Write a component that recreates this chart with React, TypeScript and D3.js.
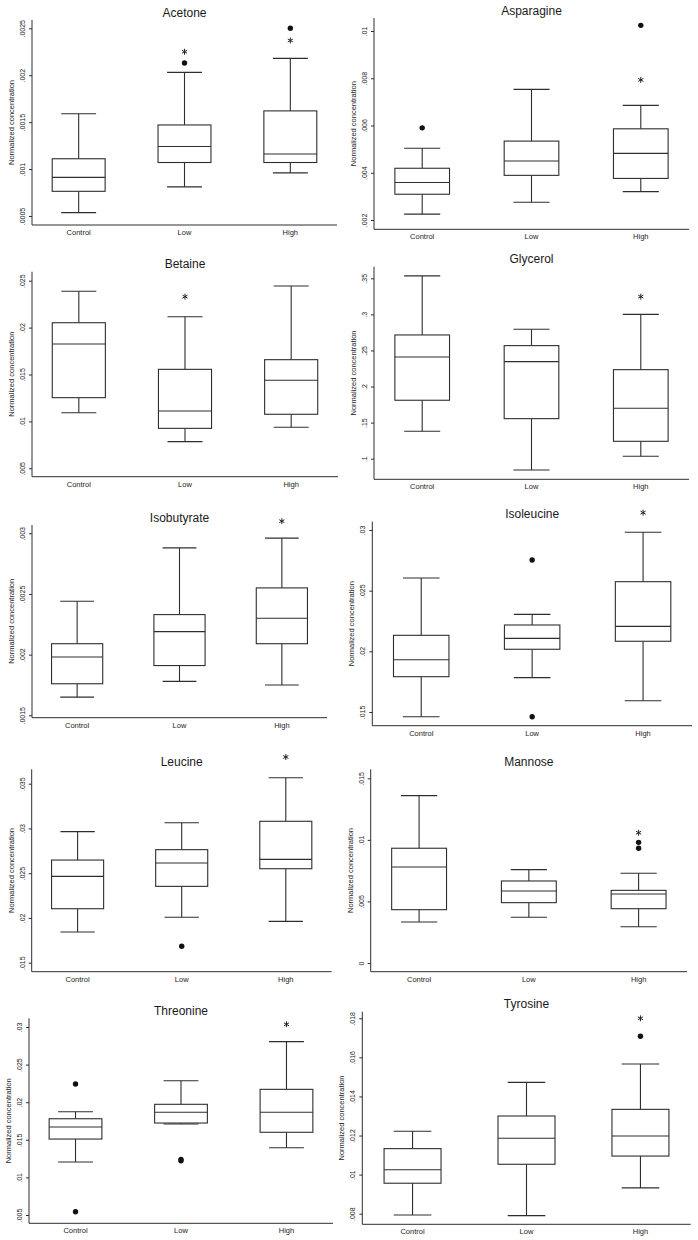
import { useRef, useEffect } from "react";
import * as d3 from "d3";

const groups = ["Control", "Low", "High"];

const metabolites = [
  "Acetone", "Asparagine", "Betaine", "Glycerol", "Isobutyrate",
  "Isoleucine", "Leucine", "Mannose", "Threonine", "Tyrosine",
];

const tickValues = [
  [0.0025, 0.002, 0.0015, 0.001, 0.0005],
  [0.01, 0.008, 0.006, 0.004, 0.002],
  [0.025, 0.02, 0.015, 0.01, 0.005],
  [0.35, 0.3, 0.25, 0.2, 0.15, 0.1],
  [0.003, 0.0025, 0.002, 0.0015],
  [0.03, 0.025, 0.02, 0.015],
  [0.035, 0.03, 0.025, 0.02, 0.015],
  [0.015, 0.01, 0.005, 0],
  [0.03, 0.025, 0.02, 0.015, 0.01, 0.005],
  [0.018, 0.016, 0.014, 0.012, 0.01, 0.008],
];

const tickLabels = [
  [".0025", ".002", ".0015", ".001", ".0005"],
  [".01", ".008", ".006", ".004", ".002"],
  [".025", ".02", ".015", ".01", ".005"],
  [".35", ".3", ".25", ".2", ".15", ".1"],
  [".003", ".0025", ".002", ".0015"],
  [".03", ".025", ".02", ".015"],
  [".035", ".03", ".025", ".02", ".015"],
  [".015", ".01", ".005", "0"],
  [".03", ".025", ".02", ".015", ".01", ".005"],
  [".018", ".016", ".014", ".012", ".01", ".008"],
];

// per metabolite: [Control, Low, High]
const whiskerHigh = [
  [0.00159, 0.00203, 0.00218],
  [0.00504, 0.00753, 0.00685],
  [0.02387, 0.02116, 0.02444],
  [0.3533, 0.2794, 0.3],
  [0.00244, 0.00288, 0.00296],
  [0.02604, 0.02305, 0.02981],
  [0.02964, 0.03064, 0.03567],
  [0.01359, 0.00758, 0.00729],
  [0.01874, 0.02286, 0.02805],
  [0.01222, 0.01472, 0.01566],
];

const upperQuartile = [
  [0.00111, 0.00147, 0.00162],
  [0.00419, 0.00534, 0.00586],
  [0.02052, 0.01555, 0.01658],
  [0.2715, 0.2567, 0.2234],
  [0.00209, 0.00233, 0.00255],
  [0.02132, 0.02217, 0.02574],
  [0.02647, 0.02763, 0.0308],
  [0.00932, 0.00666, 0.0059],
  [0.0178, 0.01972, 0.02171],
  [0.01133, 0.013, 0.01334],
];

const medians = [
  [0.000912, 0.00124, 0.00116],
  [0.00359, 0.0045, 0.00482],
  [0.01825, 0.01111, 0.01438],
  [0.241, 0.2345, 0.1699],
  [0.00198, 0.00219, 0.0023],
  [0.01931, 0.02107, 0.02206],
  [0.02465, 0.02614, 0.02655],
  [0.0078, 0.00585, 0.0056],
  [0.0167, 0.01866, 0.01866],
  [0.01025, 0.01186, 0.01198],
];

const lowerQuartile = [
  [0.000763, 0.00107, 0.00107],
  [0.00309, 0.00389, 0.00376],
  [0.01253, 0.00926, 0.01076],
  [0.181, 0.1555, 0.1241],
  [0.00176, 0.00191, 0.00209],
  [0.01791, 0.02017, 0.02083],
  [0.02103, 0.02353, 0.0255],
  [0.00433, 0.0049, 0.00441],
  [0.0151, 0.01723, 0.016],
  [0.00956, 0.01053, 0.01095],
];

const whiskerLow = [
  [0.000536, 0.00081, 0.00096],
  [0.00225, 0.00275, 0.0032],
  [0.01093, 0.00784, 0.00937],
  [0.138, 0.0843, 0.1033],
  [0.00165, 0.00178, 0.00175],
  [0.01461, 0.01783, 0.01593],
  [0.01843, 0.02007, 0.01962],
  [0.00333, 0.00371, 0.00295],
  [0.01205, 0.0171, 0.01395],
  [0.00793, 0.0079, 0.00932],
];

const outliers = [
  [[], [0.00213], [0.0025]],
  [[0.0059], [], [0.01024]],
  [[], [], []],
  [[], [], []],
  [[], [], []],
  [[], [0.02753, 0.01461], []],
  [[], [0.01683], []],
  [[], [], [0.0098, 0.00932]],
  [[0.02242, 0.00544], [0.0124, 0.0122], []],
  [[], [], [0.01708]],
];

// significance asterisks (value where the star sits), null = none
const stars = [
  [null, 0.00225, 0.00237],
  [null, null, 0.00793],
  [null, 0.0233, null],
  [null, null, 0.3246],
  [null, null, 0.0031],
  [null, null, 0.03143],
  [null, null, 0.03798],
  [null, null, 0.01058],
  [null, null, 0.03036],
  [null, null, 0.018],
];

// panel frames in page pixels
const frames = [
  { left: 32, right: 337, top: 20, bottom: 225, tickTop: 28.3, tickBottom: 216 },
  { left: 374, right: 689, top: 18, bottom: 229.3, tickTop: 31, tickBottom: 220 },
  { left: 32, right: 338, top: 271.7, bottom: 476.7, tickTop: 280.7, tickBottom: 468.3 },
  { left: 374, right: 689, top: 266.7, bottom: 479.3, tickTop: 278.3, tickBottom: 458.7 },
  { left: 32, right: 327, top: 525, bottom: 717.7, tickTop: 533.3, tickBottom: 715.3 },
  { left: 372.3, right: 692, top: 521.7, bottom: 725.7, tickTop: 530, tickBottom: 712 },
  { left: 31.7, right: 331.7, top: 769.3, bottom: 971.7, tickTop: 783.7, tickBottom: 962.7 },
  { left: 370.7, right: 687, top: 769.3, bottom: 971.7, tickTop: 778.3, tickBottom: 963 },
  { left: 29, right: 333, top: 1018.3, bottom: 1223.3, tickTop: 1027, tickBottom: 1215 },
  { left: 362.3, right: 690.7, top: 1011.7, bottom: 1224.3, tickTop: 1018.3, tickBottom: 1213.7 },
];

const ink = "#2e2e2e";
const font = "'Liberation Sans', Arial, Helvetica, sans-serif";

export default function App() {
  const ref = useRef(null);

  useEffect(() => {
    const svg = d3.select(ref.current);
    svg.selectAll("*").remove();

    const starShape = d3.symbol(d3.symbolAsterisk || d3.symbolCross, 24);

    metabolites.forEach((name, p) => {
      const f = frames[p];
      const ticks = tickValues[p];
      const y = d3
        .scaleLinear()
        .domain([ticks[0], ticks[ticks.length - 1]])
        .range([f.tickTop, f.tickBottom]);
      const x = d3.scalePoint().domain(groups).range([f.left, f.right]).padding(0.441);
      const step = x.step();
      const boxW = step * 0.5;
      const capW = step * 0.33;

      const g = svg.append("g").attr("font-family", font);

      // axes
      g.append("line")
        .attr("x1", f.left).attr("x2", f.left)
        .attr("y1", f.top).attr("y2", f.bottom)
        .attr("stroke", ink).attr("stroke-width", 1);
      g.append("line")
        .attr("x1", f.left).attr("x2", f.right)
        .attr("y1", f.bottom).attr("y2", f.bottom)
        .attr("stroke", ink).attr("stroke-width", 1);

      const ag = g
        .append("g")
        .attr("transform", `translate(${f.left},0)`)
        .call(
          d3.axisLeft(y)
            .tickValues(ticks)
            .tickSize(3)
            .tickFormat((d, i) => tickLabels[p][i])
        );
      ag.select(".domain").remove();
      ag.attr("font-family", font).attr("font-size", 7);
      ag.selectAll(".tick line").attr("stroke", ink);
      ag.selectAll(".tick text")
        .attr("x", 0)
        .attr("dy", "0.35em")
        .attr("text-anchor", "middle")
        .attr("fill", "#222")
        .attr("transform", "translate(-9.5,0) rotate(-90)");

      // y title
      g.append("text")
        .attr("transform", `translate(${f.left - 20.5},${(f.top + f.bottom) / 2}) rotate(-90)`)
        .attr("dy", "0.35em")
        .attr("text-anchor", "middle")
        .attr("font-size", 7.5)
        .attr("fill", "#222")
        .text("Normalized concentration");

      // panel title
      g.append("text")
        .attr("x", (f.left + f.right) / 2)
        .attr("y", f.top - 7.5)
        .attr("dy", "0.35em")
        .attr("text-anchor", "middle")
        .attr("font-size", 12)
        .attr("fill", "#1a1a1a")
        .text(name);

      groups.forEach((grp, i) => {
        const cx = x(grp);
        const hi = y(whiskerHigh[p][i]);
        const q3 = y(upperQuartile[p][i]);
        const md = y(medians[p][i]);
        const q1 = y(lowerQuartile[p][i]);
        const lo = y(whiskerLow[p][i]);

        const seg = (x1, y1, x2, y2) =>
          g.append("line")
            .attr("x1", x1).attr("y1", y1).attr("x2", x2).attr("y2", y2)
            .attr("stroke", ink).attr("stroke-width", 1.1);

        seg(cx, q3, cx, hi);
        seg(cx, q1, cx, lo);
        seg(cx - capW / 2, hi, cx + capW / 2, hi);
        seg(cx - capW / 2, lo, cx + capW / 2, lo);

        g.append("rect")
          .attr("x", cx - boxW / 2)
          .attr("y", q3)
          .attr("width", boxW)
          .attr("height", q1 - q3)
          .attr("fill", "white")
          .attr("stroke", ink)
          .attr("stroke-width", 1.1);
        seg(cx - boxW / 2, md, cx + boxW / 2, md);

        outliers[p][i].forEach((v) => {
          g.append("circle")
            .attr("cx", cx).attr("cy", y(v)).attr("r", 2.7)
            .attr("fill", "#111");
        });

        const s = stars[p][i];
        if (s != null) {
          g.append("path")
            .attr("transform", `translate(${cx},${y(s)})`)
            .attr("d", starShape())
            .attr("fill", "none")
            .attr("stroke", "#222")
            .attr("stroke-width", 1);
        }

        g.append("text")
          .attr("x", cx)
          .attr("y", f.bottom + 7.3)
          .attr("dy", "0.35em")
          .attr("text-anchor", "middle")
          .attr("font-size", 7.5)
          .attr("fill", "#222")
          .text(grp);
      });
    });
  }, []);

  return (
    <svg
      ref={ref}
      width={698}
      height={1240}
      style={{ position: "absolute", left: 0, top: 0, background: "white" }}
    ></svg>
  );
}
